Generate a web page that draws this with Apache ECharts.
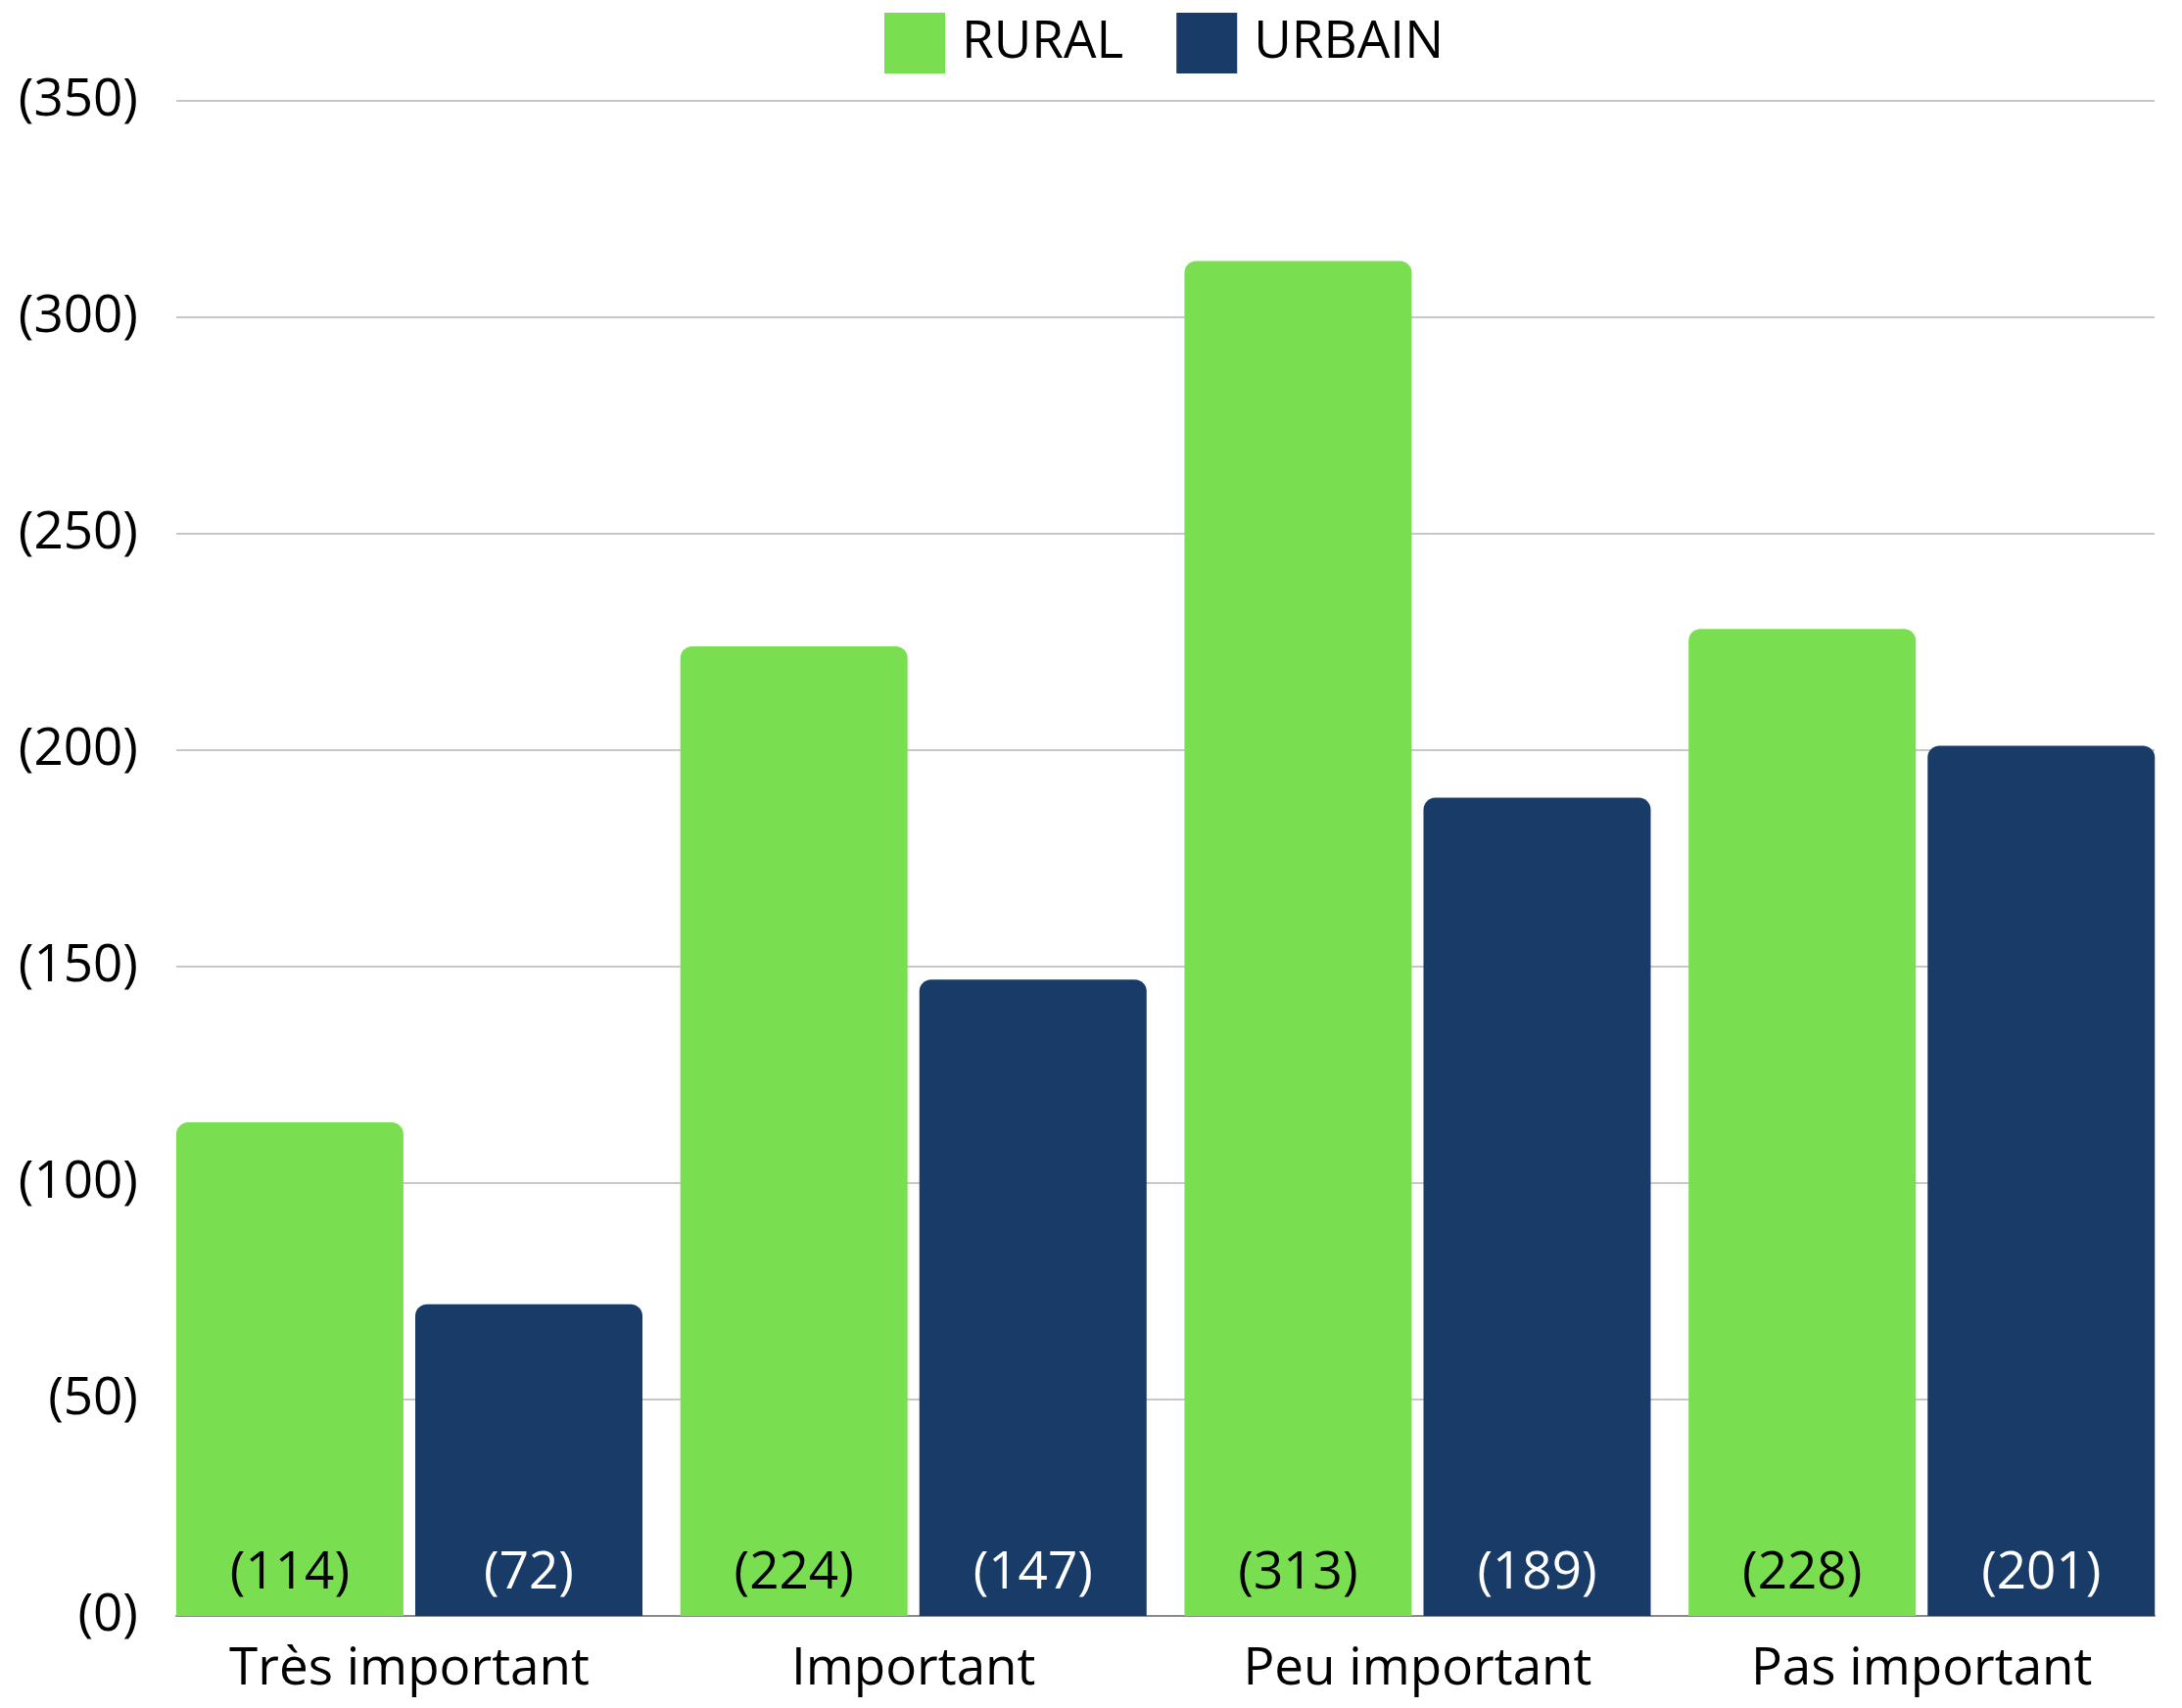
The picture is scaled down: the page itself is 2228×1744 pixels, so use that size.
<!DOCTYPE html>
<html>
<head>
<meta charset="utf-8">
<script src="https://cdn.jsdelivr.net/npm/echarts@6/dist/echarts.min.js"></script>
<style>
html,body{margin:0;padding:0;background:#fff;}
#c{width:2228px;height:1744px;}
</style>
</head>
<body>
<div id="c"></div>
<script>
const categories = ['Très important', 'Important', 'Peu important', 'Pas important'];
const seriesNames = ['RURAL', 'URBAIN'];
const ruralValues = [114, 224, 313, 228];
const urbainValues = [72, 147, 189, 201];
const yTicks = [0, 50, 100, 150, 200, 250, 300, 350];

const FONT = 'Open Sans';
const FS = 53;
const GREEN = '#7ADF50';
const NAVY = '#183B68';
const chart = echarts.init(document.getElementById('c'), null, {renderer: 'canvas'});

const option = {
  backgroundColor: '#ffffff',
  textStyle: {fontFamily: FONT},
  animation: false,
  legend: {
    data: seriesNames,
    left: 898,
    top: 8,
    itemWidth: 62,
    itemHeight: 62,
    itemGap: 54,
    icon: 'rect',
    textStyle: {fontFamily: FONT, fontSize: FS, color: '#000', padding: [0, 0, 0, 12]}
  },
  grid: [
    {left: 180, right: 28, top: 103, bottom: 94},
    {left: 160.6, right: 8.4, top: 103, bottom: 94}
  ],
  xAxis: [
    {gridIndex: 0, type: 'value', min: 0, max: 1,
     axisLine: {show: true, lineStyle: {color: '#8a8a8a', width: 2}},
     axisTick: {show: false}, axisLabel: {show: false}, splitLine: {show: false}},
    {gridIndex: 1, type: 'category', data: categories,
     axisLine: {show: false}, axisTick: {show: false},
     axisLabel: {fontFamily: FONT, fontSize: FS, color: '#000', margin: 28}}
  ],
  yAxis: [
    {gridIndex: 0, type: 'value', min: yTicks[0], max: yTicks[yTicks.length - 1], interval: 50,
     axisLine: {show: false}, axisTick: {show: false},
     axisLabel: {fontFamily: FONT, fontSize: FS, color: '#000', margin: 39,
                 formatter: v => '(' + v + ')'},
     splitLine: {show: true, lineStyle: {color: '#c8c8c8', width: 2}}},
    {gridIndex: 1, type: 'value', min: yTicks[0], max: yTicks[yTicks.length - 1], interval: 50,
     show: false, splitLine: {show: false}}
  ],
  series: [
    {name: seriesNames[0], type: 'bar', xAxisIndex: 1, yAxisIndex: 1, data: ruralValues,
     barWidth: 232, barGap: '5.2%',
     itemStyle: {color: GREEN, borderRadius: [12, 12, 0, 0]},
     label: {show: true, position: 'insideBottom', distance: 17, fontFamily: FONT, fontSize: FS,
             color: '#000', formatter: p => '(' + p.value + ')'}},
    {name: seriesNames[1], type: 'bar', xAxisIndex: 1, yAxisIndex: 1, data: urbainValues,
     barWidth: 232, barGap: '5.2%',
     itemStyle: {color: NAVY, borderRadius: [12, 12, 0, 0]},
     label: {show: true, position: 'insideBottom', distance: 17, fontFamily: FONT, fontSize: FS,
             color: '#fff', formatter: p => '(' + p.value + ')'}}
  ]
};
chart.setOption(option);
</script>
</body>
</html>
